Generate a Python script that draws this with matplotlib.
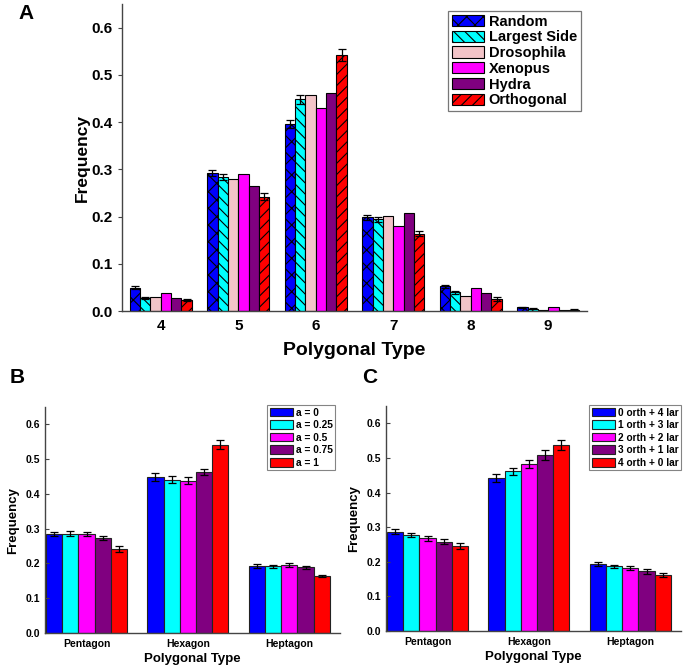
import numpy as np
import matplotlib
matplotlib.use("Agg")
import matplotlib.pyplot as plt

plt.rcParams['font.family'] = ['Liberation Sans', 'DejaVu Sans']
plt.rcParams['font.weight'] = 'bold'
plt.rcParams['hatch.linewidth'] = 0.8

# ---------- panel A data ----------
types_a = [4, 5, 6, 7, 8, 9]
names_a = ['Random', 'Largest Side', 'Drosophila', 'Xenopus', 'Hydra', 'Orthogonal']
random_v = [0.049, 0.292, 0.396, 0.198, 0.052, 0.008]
largest_v = [0.028, 0.284, 0.448, 0.194, 0.040, 0.005]
droso_v = [0.029, 0.279, 0.457, 0.201, 0.032, 0.002]
xeno_v = [0.038, 0.290, 0.429, 0.181, 0.049, 0.008]
hydra_v = [0.027, 0.264, 0.462, 0.208, 0.039, 0.002]
orth_v = [0.023, 0.242, 0.542, 0.164, 0.025, 0.003]
random_e = [0.003, 0.006, 0.008, 0.005, 0.003, 0.001]
largest_e = [0.002, 0.006, 0.010, 0.006, 0.003, 0.001]
orth_e = [0.002, 0.008, 0.013, 0.005, 0.004, 0.001]

# ---------- panel B data ----------
groups = ['Pentagon', 'Hexagon', 'Heptagon']
names_b = ['a = 0', 'a = 0.25', 'a = 0.5', 'a = 0.75', 'a = 1']
vals_b = [[0.284, 0.448, 0.193],
          [0.286, 0.441, 0.192],
          [0.285, 0.438, 0.195],
          [0.274, 0.463, 0.189],
          [0.241, 0.542, 0.164]]
errs_b = [[0.006, 0.011, 0.006],
          [0.008, 0.011, 0.005],
          [0.005, 0.010, 0.005],
          [0.006, 0.010, 0.005],
          [0.008, 0.013, 0.004]]

# ---------- panel C data ----------
names_c = ['0 orth + 4 lar', '1 orth + 3 lar', '2 orth + 2 lar', '3 orth + 1 lar', '4 orth + 0 lar']
vals_c = [[0.287, 0.443, 0.193],
          [0.278, 0.462, 0.187],
          [0.268, 0.483, 0.181],
          [0.258, 0.508, 0.172],
          [0.245, 0.537, 0.162]]
errs_c = [[0.007, 0.012, 0.006],
          [0.005, 0.010, 0.005],
          [0.007, 0.012, 0.006],
          [0.007, 0.014, 0.006],
          [0.008, 0.014, 0.007]]

colors6 = ['#0000ff', '#00ffff', '#f2c4c8', '#ff00ff', '#800080', '#ff0000']
hatches6 = ['xx', '\\\\\\', '', '', '', '///']
colors5 = ['#0000ff', '#00ffff', '#ff00ff', '#800080', '#ff0000']

W, H = 685, 670
fig = plt.figure(figsize=(6.85, 6.7), dpi=100)


def style_axes(ax, direction):
    ax.spines['top'].set_visible(False)
    ax.spines['right'].set_visible(False)
    for s in ['left', 'bottom']:
        ax.spines[s].set_color('#444444')
        ax.spines[s].set_linewidth(1.0)
    ax.tick_params(axis='y', direction=direction, length=3, width=0.8, color='#444444')
    ax.tick_params(axis='x', length=0)
    ax.set_ylim(0, 0.65)
    ax.set_yticks([0.0, 0.1, 0.2, 0.3, 0.4, 0.5, 0.6])
    ax.yaxis.set_major_formatter(matplotlib.ticker.FormatStrFormatter('%.1f'))


# ---------- A ----------
axA = fig.add_axes([122 / W, 1 - 311 / H, (587 - 122) / W, (311 - 4) / H])
style_axes(axA, 'out')
xa = np.array(types_a, dtype=float)
bw = 0.133
series_a = [random_v, largest_v, droso_v, xeno_v, hydra_v, orth_v]
errs_a = [random_e, largest_e, None, None, None, orth_e]
for i, (vals, name) in enumerate(zip(series_a, names_a)):
    pos = xa + (i - 2.5) * bw
    axA.bar(pos, vals, bw, color=colors6[i], edgecolor='black', linewidth=0.8,
            hatch=hatches6[i], label=name)
    if errs_a[i] is not None:
        axA.errorbar(pos, vals, yerr=errs_a[i], fmt='none', ecolor='black',
                     elinewidth=0.9, capsize=3, capthick=0.9)
axA.set_xlim(3.5, 9.5)
axA.set_xticks(types_a)
axA.tick_params(axis='both', labelsize=11)
axA.tick_params(axis='x', pad=6)
for lab in axA.get_xticklabels() + axA.get_yticklabels():
    lab.set_fontweight('bold')
axA.set_xlabel('Polygonal Type', fontsize=14, fontweight='bold', labelpad=6)
axA.set_ylabel('Frequency', fontsize=12.5, fontweight='bold', labelpad=1)
legA = axA.legend(loc='upper left', bbox_to_anchor=(448 / W, 1 - 11 / H),
                  bbox_transform=fig.transFigure, frameon=True, fancybox=False,
                  prop={'weight': 'bold', 'size': 10.5}, handlelength=2.2,
                  handleheight=0.8, labelspacing=0.12, borderpad=0.25,
                  handletextpad=0.35, borderaxespad=0)
legA.get_frame().set_edgecolor('#555555')
legA.get_frame().set_linewidth(0.9)
fig.text(18 / W, 1 - 19 / H, 'A', fontsize=15, fontweight='bold')


def panel(ax, vals, errs, names, leg_xy):
    style_axes(ax, 'in')
    x = np.arange(len(groups))
    w = 0.16
    for i in range(len(names)):
        pos = x + (i - 2) * w
        ax.bar(pos, vals[i], w, color=colors5[i], edgecolor='#222222', linewidth=0.8,
               label=names[i])
        ax.errorbar(pos, vals[i], yerr=errs[i], fmt='none', ecolor='black',
                    elinewidth=0.9, capsize=3, capthick=0.9)
    ax.set_xlim(-0.41, 2.5)
    ax.set_xticks(x)
    ax.set_xticklabels(groups)
    ax.tick_params(axis='both', labelsize=7.5)
    ax.tick_params(axis='x', pad=4)
    for lab in ax.get_xticklabels() + ax.get_yticklabels():
        lab.set_fontweight('bold')
    ax.set_xlabel('Polygonal Type', fontsize=9.5, fontweight='bold', labelpad=3)
    ax.set_ylabel('Frequency', fontsize=9.5, fontweight='bold', labelpad=5)
    leg = ax.legend(loc='upper left', bbox_to_anchor=leg_xy,
                    bbox_transform=fig.transFigure, frameon=True, fancybox=False,
                    prop={'weight': 'bold', 'size': 7.3}, handlelength=2.3,
                    handleheight=0.95, labelspacing=0.25, borderpad=0.25,
                    handletextpad=0.3, borderaxespad=0)
    leg.get_frame().set_edgecolor('#666666')
    leg.get_frame().set_linewidth(0.8)


# ---------- B ----------
axB = fig.add_axes([45 / W, 1 - 633 / H, (340 - 45) / W, (633 - 407) / H])
panel(axB, vals_b, errs_b, names_b, (267 / W, 1 - 405 / H))
fig.text(10 / W, 1 - 383 / H, 'B', fontsize=15, fontweight='bold')

# ---------- C ----------
axC = fig.add_axes([386 / W, 1 - 631 / H, (681 - 386) / W, (631 - 406) / H])
panel(axC, vals_c, errs_c, names_c, (589 / W, 1 - 405 / H))
fig.text(362 / W, 1 - 383 / H, 'C', fontsize=15, fontweight='bold')

fig.savefig('out.png', dpi=100)
